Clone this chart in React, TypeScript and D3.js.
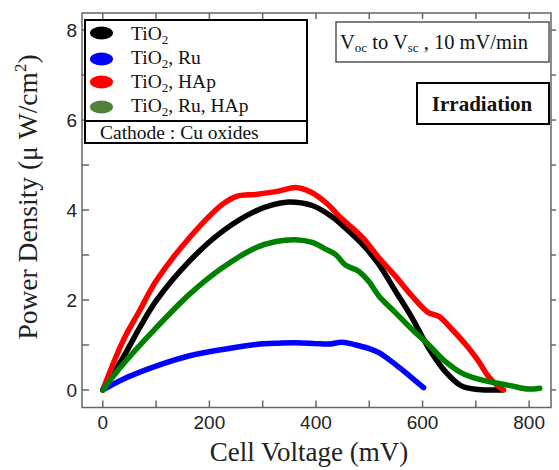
import * as d3 from 'd3';

// values (mV, µW/cm²)
const tio2: [number, number][] = [
  [0, 0], [38, 0.72], [69, 1.38], [100, 1.98], [163, 2.87], [225, 3.53], [287, 3.98],
  [320, 4.12], [350, 4.18], [393, 4.1], [430, 3.85], [455, 3.6], [490, 3.2], [518, 2.79],
  [549, 2.2], [580, 1.61], [611, 0.94], [642, 0.42], [673, 0.09], [705, 0.01], [749, 0],
];
const tio2Ru: [number, number][] = [
  [0, 0], [38, 0.24], [100, 0.53], [163, 0.76], [225, 0.9], [287, 1.01], [331, 1.04],
  [362, 1.05], [400, 1.03], [424, 1.02], [449, 1.06], [475, 1.0], [500, 0.92], [518, 0.83],
  [549, 0.57], [580, 0.27], [602, 0.05],
];
const tio2HAp: [number, number][] = [
  [0, 0], [38, 1.09], [69, 1.76], [100, 2.42], [163, 3.39], [225, 4.13], [250, 4.3],
  [290, 4.35], [330, 4.42], [362, 4.5], [390, 4.4], [420, 4.15], [443, 3.87], [487, 3.39],
  [518, 2.94], [549, 2.53], [580, 2.09], [611, 1.72], [630, 1.64], [655, 1.35], [686, 0.94],
  [705, 0.64], [723, 0.31], [745, 0.05], [752, 0],
];
const tio2RuHAp: [number, number][] = [
  [0, 0], [38, 0.57], [100, 1.38], [163, 2.13], [225, 2.72], [287, 3.16], [325, 3.3],
  [362, 3.34], [393, 3.28], [420, 3.12], [437, 3.01], [455, 2.78], [480, 2.64], [500, 2.4],
  [518, 2.09], [549, 1.72], [580, 1.35], [611, 1.01], [642, 0.64], [673, 0.38], [705, 0.24],
  [767, 0.09], [798, 0.02], [820, 0.04],
];

const seriesNames = ['TiO2', 'TiO2, Ru', 'TiO2, HAp', 'TiO2, Ru, HAp'];
const seriesData = [tio2, tio2Ru, tio2HAp, tio2RuHAp];
const lineColors = ['#000000', '#0000ff', '#ff0000', '#008000'];
const markerColors = ['#000000', '#0000ff', '#ff0000', '#4f8139'];

const xTicks = [0, 200, 400, 600, 800];
const yTicks = [0, 2, 4, 6, 8];

export default function App() {
  const W = 559, H = 470;
  const m = { left: 82, top: 13, right: 551, bottom: 407.5 };
  const x = d3.scaleLinear().domain([-39, 841]).range([m.left, m.right]);
  const y = d3.scaleLinear().domain([-0.39, 8.38]).range([m.bottom, m.top]);
  const line = d3.line<[number, number]>()
    .x(d => x(d[0]))
    .y(d => y(d[1]))
    .curve(d3.curveCatmullRom);

  const axisCol = '#666';
  const serif = '"Liberation Serif", "Times New Roman", serif';
  const sans = '"Liberation Sans", Arial, sans-serif';
  const xAll = d3.range(0, 801, 100);
  const yAll = d3.range(0, 9, 1);

  // legend label with subscript 2
  const label = (s: string) => (
    <>
      TiO<tspan fontSize={13} dy={4}>2</tspan>
      <tspan dy={-4}>{s.slice(4)}</tspan>
    </>
  );

  const markerY = [33, 59, 82, 107];
  const textY = [40, 64, 88, 112];

  return (
    <svg width={W} height={H} style={{ position: 'absolute', left: 0, top: 0, background: '#fff' }}>
      {/* data */}
      {seriesData.map((d, i) => (
        <path key={i} d={line(d) || ''} fill="none" stroke={lineColors[i]}
          strokeWidth={5.5} strokeLinejoin="round" strokeLinecap="round" />
      ))}

      {/* frame */}
      <rect x={m.left} y={m.top} width={m.right - m.left} height={m.bottom - m.top}
        fill="none" stroke={axisCol} strokeWidth={1.5} />

      {/* x ticks bottom + top (inward) */}
      {xAll.map(v => (
        <g key={'x' + v}>
          <line x1={x(v)} x2={x(v)} y1={m.bottom} y2={m.bottom - 7} stroke={axisCol} strokeWidth={1.5} />
          <line x1={x(v)} x2={x(v)} y1={m.top} y2={m.top + 6} stroke={axisCol} strokeWidth={1.5} />
        </g>
      ))}
      {xTicks.map(v => (
        <text key={'xl' + v} x={x(v)} y={429} textAnchor="middle" fontFamily={sans} fontSize={19} fill="#222">{v}</text>
      ))}

      {/* y ticks left (inward) + right (outward) */}
      {yAll.map(v => (
        <g key={'y' + v}>
          <line x1={m.left} x2={m.left + 7} y1={y(v)} y2={y(v)} stroke={axisCol} strokeWidth={1.5} />
          <line x1={m.right} x2={m.right + 5} y1={y(v)} y2={y(v)} stroke={axisCol} strokeWidth={1.5} />
        </g>
      ))}
      {yTicks.map(v => (
        <text key={'yl' + v} x={77} y={y(v) + 7} textAnchor="end" fontFamily={sans} fontSize={19} fill="#222">{v}</text>
      ))}

      {/* axis titles */}
      <text x={309} y={461} textAnchor="middle" fontFamily={serif} fontSize={27} fill="#222">Cell Voltage (mV)</text>
      <text transform={`translate(37, 197) rotate(-90)`} textAnchor="middle" fontFamily={serif} fontSize={27.5} fill="#222">
        Power Density (μ W/cm<tspan fontSize={17} dy={-11}>2</tspan><tspan dy={11}>)</tspan>
      </text>

      {/* legend */}
      <rect x={85} y={20} width={222} height={123} fill="#fff" stroke="#000" strokeWidth={2} />
      <line x1={85} x2={307} y1={121} y2={121} stroke="#000" strokeWidth={2} />
      {seriesNames.map((n, i) => (
        <g key={n}>
          <ellipse cx={101.5} cy={markerY[i]} rx={11.5} ry={6.5} fill={markerColors[i]} />
          <text x={131} y={textY[i]} fontFamily={serif} fontSize={19.5} fill="#111">{label(n)}</text>
        </g>
      ))}
      <text x={100} y={139} fontFamily={serif} fontSize={19.5} fill="#111">Cathode : Cu oxides</text>

      {/* condition box */}
      <rect x={336} y={22} width={213} height={40} fill="#fff" stroke="#555" strokeWidth={1.5} />
      <text x={340} y={49} fontFamily={serif} fontSize={20.5} fill="#111">
        V<tspan fontSize={13} dy={3}>oc</tspan><tspan dy={-3}> to V</tspan><tspan fontSize={13} dy={3}>sc</tspan><tspan dy={-3}> , 10 mV/min</tspan>
      </text>

      {/* irradiation box */}
      <rect x={417} y={83} width={132} height={41} fill="#fff" stroke="#000" strokeWidth={2} />
      <text x={482} y={111} textAnchor="middle" fontFamily={serif} fontSize={21} fontWeight="bold" fill="#111">Irradiation</text>
    </svg>
  );
}
